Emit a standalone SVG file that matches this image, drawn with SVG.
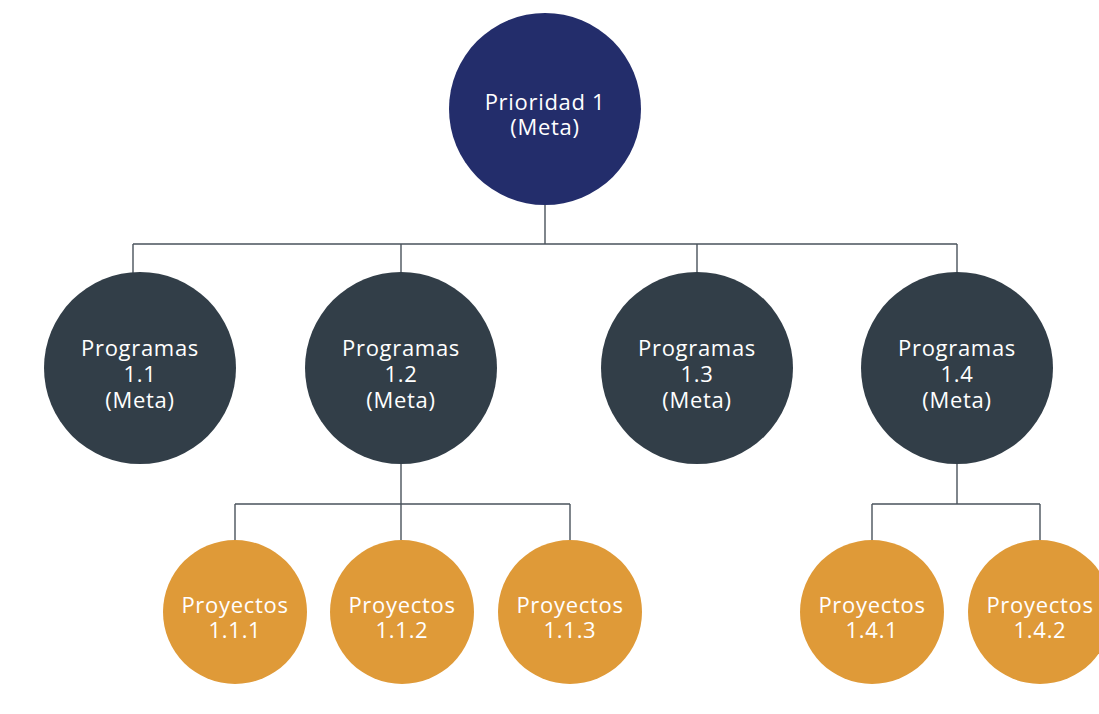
<svg xmlns="http://www.w3.org/2000/svg" width="1099" height="714" viewBox="0 0 1099 714">
<style>
.t{font-family:"Open Sans","Noto Sans",sans-serif;font-size:22px;letter-spacing:0.7px;fill:#ffffff;text-anchor:middle}
.c{fill:none;stroke:#4a535c;stroke-width:1.4}
</style>
<rect width="1099" height="714" fill="#ffffff"/>
<g id="connectors" class="c">
<path d="M545 205V244M133 244H957M133 244V273M401 244V273M697 244V273M957 244V273"/>
<path d="M401 464V504M235 504H570M235 504V540M401 504V540M570 504V540"/>
<path d="M957 464V504M872 504H1040M872 504V540M1040 504V540"/>
</g>
<g id="n-root"><circle cx="545" cy="109" r="96" fill="#232d6b"/><text class="t" x="545" y="110">Prioridad 1</text><text class="t" x="545" y="135">(Meta)</text></g>
<g id="n-p11"><circle cx="140" cy="368" r="96" fill="#323e48"/><text class="t" x="140" y="356">Programas</text><text class="t" x="140" y="382">1.1</text><text class="t" x="140" y="408">(Meta)</text></g>
<g id="n-p12"><circle cx="401" cy="368" r="96" fill="#323e48"/><text class="t" x="401" y="356">Programas</text><text class="t" x="401" y="382">1.2</text><text class="t" x="401" y="408">(Meta)</text></g>
<g id="n-p13"><circle cx="697" cy="368" r="96" fill="#323e48"/><text class="t" x="697" y="356">Programas</text><text class="t" x="697" y="382">1.3</text><text class="t" x="697" y="408">(Meta)</text></g>
<g id="n-p14"><circle cx="957" cy="368" r="96" fill="#323e48"/><text class="t" x="957" y="356">Programas</text><text class="t" x="957" y="382">1.4</text><text class="t" x="957" y="408">(Meta)</text></g>
<g id="n-pr111"><circle cx="235" cy="612" r="72" fill="#df9a38"/><text class="t" x="235" y="613">Proyectos</text><text class="t" x="235" y="638">1.1.1</text></g>
<g id="n-pr112"><circle cx="402" cy="612" r="72" fill="#df9a38"/><text class="t" x="402" y="613">Proyectos</text><text class="t" x="402" y="638">1.1.2</text></g>
<g id="n-pr113"><circle cx="570" cy="612" r="72" fill="#df9a38"/><text class="t" x="570" y="613">Proyectos</text><text class="t" x="570" y="638">1.1.3</text></g>
<g id="n-pr141"><circle cx="872" cy="612" r="72" fill="#df9a38"/><text class="t" x="872" y="613">Proyectos</text><text class="t" x="872" y="638">1.4.1</text></g>
<g id="n-pr142"><circle cx="1040" cy="612" r="72" fill="#df9a38"/><text class="t" x="1040" y="613">Proyectos</text><text class="t" x="1040" y="638">1.4.2</text></g>
</svg>
